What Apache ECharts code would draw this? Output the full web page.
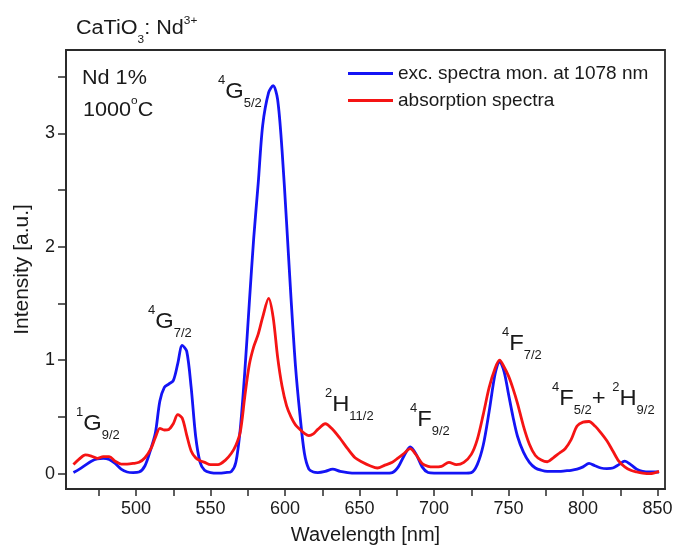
<!DOCTYPE html>
<html>
<head>
<meta charset="utf-8">
<script src="https://cdn.jsdelivr.net/npm/echarts@6/dist/echarts.min.js"></script>
<style>
  html, body { margin: 0; padding: 0; background: #ffffff; }
  #chart { width: 677px; height: 550px; }
</style>
</head>
<body>
<div id="chart"></div>
<script>
// Wavelength grid (nm) shared by both spectra
const wavelength = [458,462,466,470,474,478,482,486,490,494,498,502,506,510,513,516,519,522,525,528,531,534,537,540,543,546,550,555,560,564,567,570,573,576,579,582,585,589,592,595,598,601,604,607,610,613,616,619,622,627,632,637,642,647,652,657,662,667,672,676,680,684,688,692,696,700,705,710,715,720,725,729,733,737,741,744,747,750,753,756,760,764,768,772,776,780,784,788,792,796,800,804,808,812,816,820,824,828,832,836,840,845,851];

// Excitation spectrum monitored at 1078 nm
const excitation = [0.01,0.04,0.075,0.11,0.13,0.135,0.125,0.09,0.04,0.015,0.01,0.015,0.07,0.22,0.36,0.64,0.76,0.79,0.82,0.97,1.13,1.08,0.76,0.33,0.1,0.03,0.01,0.005,0.01,0.02,0.1,0.4,0.9,1.5,2.08,2.56,3.07,3.36,3.42,3.3,2.85,2.22,1.55,0.95,0.52,0.18,0.04,0.015,0.01,0.02,0.04,0.02,0.01,0.005,0.005,0.005,0.005,0.005,0.01,0.06,0.16,0.235,0.17,0.06,0.01,0.005,0.005,0.005,0.005,0.005,0.01,0.08,0.25,0.55,0.88,0.99,0.9,0.7,0.5,0.33,0.19,0.1,0.05,0.03,0.02,0.02,0.02,0.025,0.03,0.04,0.06,0.09,0.07,0.05,0.045,0.05,0.08,0.11,0.08,0.04,0.02,0.015,0.015];

// Absorption spectrum
const absorption = [0.08,0.13,0.165,0.155,0.135,0.15,0.15,0.11,0.085,0.085,0.09,0.1,0.14,0.22,0.32,0.4,0.385,0.39,0.44,0.52,0.49,0.34,0.2,0.14,0.115,0.1,0.08,0.08,0.12,0.18,0.25,0.37,0.68,0.96,1.12,1.23,1.38,1.545,1.38,1.03,0.77,0.6,0.5,0.43,0.39,0.355,0.335,0.35,0.39,0.44,0.39,0.31,0.22,0.14,0.1,0.07,0.05,0.075,0.1,0.14,0.18,0.22,0.165,0.09,0.065,0.06,0.065,0.1,0.08,0.1,0.17,0.3,0.52,0.76,0.93,1.0,0.94,0.86,0.75,0.62,0.42,0.26,0.16,0.12,0.105,0.14,0.18,0.22,0.3,0.42,0.455,0.46,0.42,0.36,0.29,0.2,0.11,0.06,0.03,0.015,0.005,0.0,0.02];

const seriesNames = ['exc. spectra mon. at 1078 nm', 'absorption spectra'];

// Axis ticks and labels
const xTicks = [475,500,525,550,575,600,625,650,675,700,725,750,775,800,825,850];
const xLabels = [500,550,600,650,700,750,800,850];
const yTicks = [0,0.5,1,1.5,2,2.5,3,3.5];
const yLabels = [0,1,2,3];

const FONT = '"Liberation Sans", Arial, sans-serif';
const INK = '#1a1a1a';
const SX = 1.08;

const measureCtx = document.createElement('canvas').getContext('2d');
function textWidth(t, size) {
  measureCtx.font = size + 'px ' + FONT;
  return measureCtx.measureText(t).width;
}

// Spectroscopic term label: parts are [kind, text] with kind main / sup / sub
function term(x0, base, parts, size, opts) {
  const o = Object.assign({ small: Math.round(size * 0.55), supRise: 0.68, subDrop: 0.38 }, opts || {});
  const children = [];
  let x = 0;
  parts.forEach(function (p) {
    const kind = p[0], t = p[1];
    const fs = kind === 'main' ? size : o.small;
    const b = kind === 'sup' ? -size * o.supRise : (kind === 'sub' ? size * o.subDrop : 0);
    children.push({
      type: 'text', x: x, y: b - fs * 0.35, scaleX: SX, silent: true,
      style: { text: t, font: fs + 'px ' + FONT, fill: INK, align: 'left', verticalAlign: 'middle' }
    });
    x += textWidth(t, fs) * SX;
  });
  return { type: 'group', x: x0, y: base, children: children };
}

const toPairs = (ys) => wavelength.map((w, i) => [w, ys[i]]);

const chart = echarts.init(document.getElementById('chart'), null, { renderer: 'canvas' });

chart.setOption({
  animation: false,
  backgroundColor: '#ffffff',
  textStyle: { fontFamily: FONT, color: INK },
  grid: {
    left: 66, right: 12, top: 50, bottom: 61,
    show: true, borderColor: '#2a2a2a', borderWidth: 1.8, backgroundColor: 'transparent'
  },
  legend: {
    orient: 'vertical', left: 348, top: 64, padding: 0,
    itemWidth: 45, itemHeight: 3, itemGap: 8, icon: 'rect',
    textStyle: { fontFamily: FONT, fontSize: 19, color: INK },
    data: seriesNames
  },
  xAxis: {
    type: 'value', min: 453, max: 855,
    name: 'Wavelength [nm]', nameLocation: 'middle', nameGap: 36,
    nameTextStyle: { fontFamily: FONT, fontSize: 20, color: INK },
    axisLine: { show: true, onZero: false, lineStyle: { color: '#2a2a2a', width: 1.8 } },
    axisTick: { show: true, inside: false, length: 7, lineStyle: { color: '#2a2a2a', width: 1.5 }, customValues: xTicks },
    axisLabel: { fontFamily: FONT, fontSize: 18, color: INK, margin: 11, customValues: xLabels },
    splitLine: { show: false }
  },
  yAxis: {
    type: 'value', min: -0.135, max: 3.734,
    name: 'Intensity [a.u.]', nameLocation: 'middle', nameGap: 33, nameRotate: 90,
    nameTextStyle: { fontFamily: FONT, fontSize: 21, color: INK },
    axisLine: { show: true, onZero: false, lineStyle: { color: '#2a2a2a', width: 1.8 } },
    axisTick: { show: true, inside: false, length: 8, lineStyle: { color: '#2a2a2a', width: 1.5 }, customValues: yTicks },
    axisLabel: { fontFamily: FONT, fontSize: 18, color: INK, margin: 11, customValues: yLabels,
      formatter: (v) => String(Math.round(v)) },
    splitLine: { show: false }
  },
  series: [
    {
      name: seriesNames[0], type: 'line', data: toPairs(excitation),
      showSymbol: false, smooth: 0.3, color: '#1414f5',
      lineStyle: { color: '#1414f5', width: 2.8 }
    },
    {
      name: seriesNames[1], type: 'line', data: toPairs(absorption),
      showSymbol: false, smooth: 0.3, color: '#f51414',
      lineStyle: { color: '#f51414', width: 2.8 }
    }
  ],
  graphic: [
    term(76, 35, [['main', 'CaTiO'], ['sub', '3'], ['main', ': Nd'], ['sup', '3+']], 20, { supRise: 0.5, subDrop: 0.42 }),
    term(82, 85, [['main', 'Nd 1%']], 20),
    term(83, 117, [['main', '1000'], ['sup', 'o'], ['main', 'C']], 20, { supRise: 0.6 }),
    term(218, 100, [['sup', '4'], ['main', 'G'], ['sub', '5/2']], 22),
    term(148, 330, [['sup', '4'], ['main', 'G'], ['sub', '7/2']], 22),
    term(76, 432, [['sup', '1'], ['main', 'G'], ['sub', '9/2']], 22),
    term(325, 413, [['sup', '2'], ['main', 'H'], ['sub', '11/2']], 22),
    term(410, 428, [['sup', '4'], ['main', 'F'], ['sub', '9/2']], 22),
    term(502, 352, [['sup', '4'], ['main', 'F'], ['sub', '7/2']], 22),
    term(552, 407, [['sup', '4'], ['main', 'F'], ['sub', '5/2'], ['main', '+ '], ['sup', '2'], ['main', 'H'], ['sub', '9/2']], 22)
  ]
});
</script>
</body>
</html>
